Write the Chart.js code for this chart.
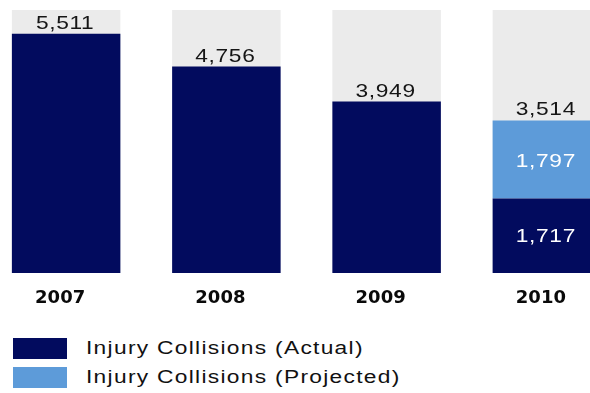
<!DOCTYPE html>
<html>
<head>
<meta charset="utf-8">
<script src="https://cdn.jsdelivr.net/npm/chart.js@4/dist/chart.umd.min.js"></script>
<style>
  html, body { margin: 0; padding: 0; width: 590px; height: 393px; overflow: hidden; background: #fff; }
  #chart { position: absolute; left: -14px; top: 0; }
  #legend { position: absolute; left: 13px; top: 338px; font-family: "Liberation Sans", Arial, sans-serif;
            font-size: 17.5px; letter-spacing: 1px; color: #111; }
  .item { display: flex; align-items: center; height: 21px; margin-bottom: 8px; white-space: nowrap; }
  .swatch { width: 54px; height: 21px; margin-right: 19px; flex: none; }
  .text { display: inline-block; transform: scaleX(1.3); transform-origin: left center; }
</style>
</head>
<body>
<canvas id="chart" width="641" height="320"></canvas>
<div id="legend"></div>
<script>
// Injury collisions per year; 2010 is split into actual and projected parts
const years = ['2007', '2008', '2009', '2010'];
const actual = [5511, 4756, 3949, 1717];
const projected = [null, null, null, 1797];

const NAVY = '#020b5e';
const LIGHT_BLUE = '#5d9bd9';
const BACKDROP = '#ebebeb';
const axisMax = 6060;

const fmt = v => v.toLocaleString('en-US');

// Wide-set label text: drawn with a horizontal stretch around its centre
function wideText(ctx, text, x, y) {
  ctx.save();
  ctx.translate(x, y);
  ctx.scale(1.3, 1);
  ctx.fillText(text, 0, 0);
  ctx.restore();
}

// Value labels: total above each bar, segment values inside a split bar
const valueLabels = {
  id: 'valueLabels',
  afterDatasetsDraw(chart) {
    const ctx = chart.ctx;
    const mA = chart.getDatasetMeta(0);
    const mP = chart.getDatasetMeta(1);
    ctx.save();
    ctx.font = '17.5px "Liberation Sans", Arial, sans-serif';
    ctx.letterSpacing = '0.5px';
    ctx.textAlign = 'center';
    years.forEach((_, i) => {
      const a = mA.data[i];
      const hasProj = projected[i] != null;
      const topEl = hasProj ? mP.data[i] : a;
      const total = actual[i] + (hasProj ? projected[i] : 0);
      ctx.fillStyle = '#151515';
      ctx.textBaseline = 'alphabetic';
      wideText(ctx, fmt(total), topEl.x - 1, topEl.y - 5);
      if (hasProj) {
        ctx.fillStyle = '#ffffff';
        ctx.textBaseline = 'middle';
        const p = mP.data[i];
        wideText(ctx, fmt(projected[i]), p.x - 1, (p.y + p.base) / 2 + 3);
        wideText(ctx, fmt(actual[i]), a.x - 1, (a.y + a.base) / 2 + 1);
      }
    });
    ctx.restore();
  }
};

const chart = new Chart(document.getElementById('chart'), {
  type: 'bar',
  data: {
    labels: years,
    datasets: [
      { label: 'Injury Collisions (Actual)', data: actual, backgroundColor: NAVY, stack: 'main' },
      { label: 'Injury Collisions (Projected)', data: projected, backgroundColor: LIGHT_BLUE, stack: 'main' },
      { label: 'backdrop', data: years.map(() => axisMax), backgroundColor: BACKDROP, stack: 'bg' }
    ]
  },
  options: {
    responsive: false,
    animation: false,
    datasets: { bar: { grouped: false, categoryPercentage: 1, barPercentage: 0.677, borderWidth: 0 } },
    layout: { padding: { top: 10, left: 0, right: 0, bottom: 0 } },
    plugins: { legend: { display: false }, tooltip: { enabled: false } },
    scales: {
      x: {
        grid: { display: false },
        border: { display: false },
        ticks: {
          color: '#0a0a0a',
          padding: 7,
          labelOffset: -6,
          font: { family: '"DejaVu Sans", sans-serif', weight: 'bold', size: 18 }
        },
        afterFit(axis) { axis.height = 47; }
      },
      y: { display: false, stacked: true, min: 0, max: axisMax }
    }
  },
  plugins: [valueLabels]
});

// Legend built from the two data series
const legend = document.getElementById('legend');
chart.data.datasets.slice(0, 2).forEach(ds => {
  const row = document.createElement('div');
  row.className = 'item';
  const sw = document.createElement('span');
  sw.className = 'swatch';
  sw.style.background = ds.backgroundColor;
  const txt = document.createElement('span');
  txt.className = 'text';
  txt.textContent = ds.label;
  row.appendChild(sw);
  row.appendChild(txt);
  legend.appendChild(row);
});
</script>
</body>
</html>
